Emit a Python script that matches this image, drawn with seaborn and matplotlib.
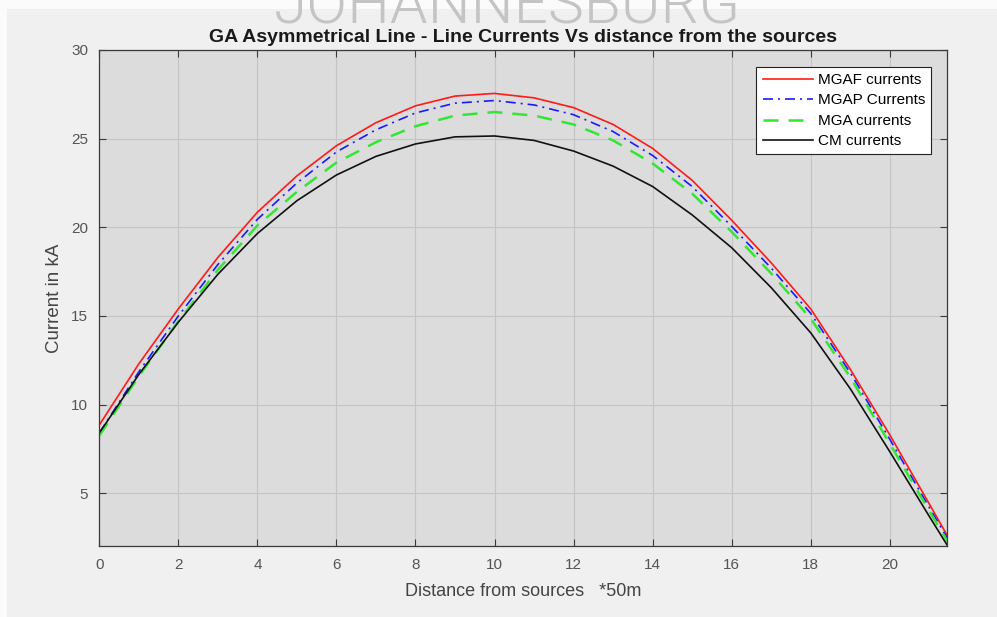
import matplotlib
matplotlib.use("Agg")
import matplotlib.pyplot as plt
import seaborn as sns
import pandas as pd
from matplotlib.patches import Rectangle

# Distance along the line (units of 50 m)
distance = [0, 1, 2, 3, 4, 5, 6, 7, 8, 9, 10, 11, 12, 13, 14, 15, 16, 17, 18, 19, 20, 21, 21.46]

# Line currents in kA for each method
mgaf = [8.85, 12.3, 15.4, 18.3, 20.85, 22.9, 24.6, 25.9, 26.85, 27.4, 27.55, 27.3, 26.75, 25.8,
        24.45, 22.65, 20.4, 18.0, 15.4, 12.0, 8.3, 4.4, 2.6]
mgap = [8.4, 11.85, 15.0, 17.9, 20.45, 22.5, 24.25, 25.5, 26.45, 27.0, 27.15, 26.9, 26.35, 25.4,
        24.05, 22.3, 20.05, 17.7, 15.15, 11.8, 8.05, 4.2, 2.45]
mga = [8.25, 11.6, 14.7, 17.6, 20.1, 22.0, 23.65, 24.8, 25.7, 26.3, 26.5, 26.3, 25.8, 24.9,
       23.6, 21.9, 19.75, 17.4, 14.85, 11.55, 7.8, 4.0, 2.3]
cm = [8.4, 11.7, 14.65, 17.35, 19.65, 21.5, 22.95, 24.0, 24.7, 25.1, 25.15, 24.9, 24.3, 23.45,
      22.3, 20.7, 18.85, 16.6, 14.05, 10.9, 7.35, 3.7, 2.05]

series_names = ["MGAF currents", "MGAP Currents", "MGA currents", "CM currents"]
x_ticks = [0, 2, 4, 6, 8, 10, 12, 14, 16, 18, 20]
y_ticks = [5, 10, 15, 20, 25, 30]

plt.rcParams["font.family"] = ["Liberation Sans", "DejaVu Sans"]

fig = plt.figure(figsize=(9.97, 6.17), dpi=100)
fig.patch.set_facecolor("#f0f0f0")
# thin white margins along the top and left edges of the window
fig.patches.append(Rectangle((0, 1 - 9 / 617), 1, 9 / 617, transform=fig.transFigure,
                             facecolor="#fbfbfb", edgecolor="none", zorder=-5))
fig.patches.append(Rectangle((0, 0), 7 / 997, 1, transform=fig.transFigure,
                             facecolor="#fbfbfb", edgecolor="none", zorder=-5))

ax = fig.add_axes([0.0996, 0.1143, 0.8507, 0.8047])
ax.set_facecolor("#dcdcdc")

styles = [
    dict(color="#ff1a1a", linestyle="-", linewidth=1.2),
    dict(color="#1a1aff", linestyle=(0, (6, 3, 1.2, 3)), linewidth=1.2),
    dict(color="#33e633", linestyle=(0, (6, 4)), linewidth=1.8),
    dict(color="#111111", linestyle="-", linewidth=1.2),
]

frames = [pd.DataFrame({"distance": distance, "current": vals})
          for vals in (mgaf, mgap, mga, cm)]
for df, name, st in zip(frames, series_names, styles):
    sns.lineplot(data=df, x="distance", y="current", ax=ax, label=name,
                 estimator=None, sort=False, **st)

ax.set_xlim(0, 21.46)
ax.set_ylim(2, 30)
ax.set_xticks(x_ticks)
ax.set_yticks(y_ticks)
ax.grid(True, color="#c4c4c4", linewidth=0.8)
ax.set_axisbelow(True)

for sp in ax.spines.values():
    sp.set_color("#3a3a3a")
    sp.set_linewidth(0.9)
ax.tick_params(direction="in", length=5, width=0.8, colors="#3a3a3a",
               labelcolor="#555555", labelsize=11, top=True, right=True,
               labeltop=False, labelright=False, pad=8)

ax.set_xlabel("Distance from sources   *50m", fontsize=13, color="#444444", labelpad=8)
ax.set_ylabel("Current in kA", fontsize=13.5, color="#444444", labelpad=6)
ax.set_title("GA Asymmetrical Line - Line Currents Vs distance from the sources",
             fontsize=14, fontweight="bold", color="#1a1a1a", pad=6)

leg = ax.legend(loc="upper right", bbox_to_anchor=(0.9806, 0.9658), fontsize=11,
                frameon=True, fancybox=False, facecolor="white", edgecolor="#222222",
                framealpha=1, handlelength=3.3, handletextpad=0.3, borderpad=0.4,
                labelspacing=0.42, borderaxespad=0)
leg.get_frame().set_linewidth(0.8)

fig.text(0.5085, 1 - 24 / 617, "JOHANNESBURG", fontsize=43.5, color="#c4c4c4",
         ha="center", va="baseline", family=["Roboto", "DejaVu Sans"], fontweight=300)

fig.savefig("out.png", dpi=100, facecolor=fig.get_facecolor())
